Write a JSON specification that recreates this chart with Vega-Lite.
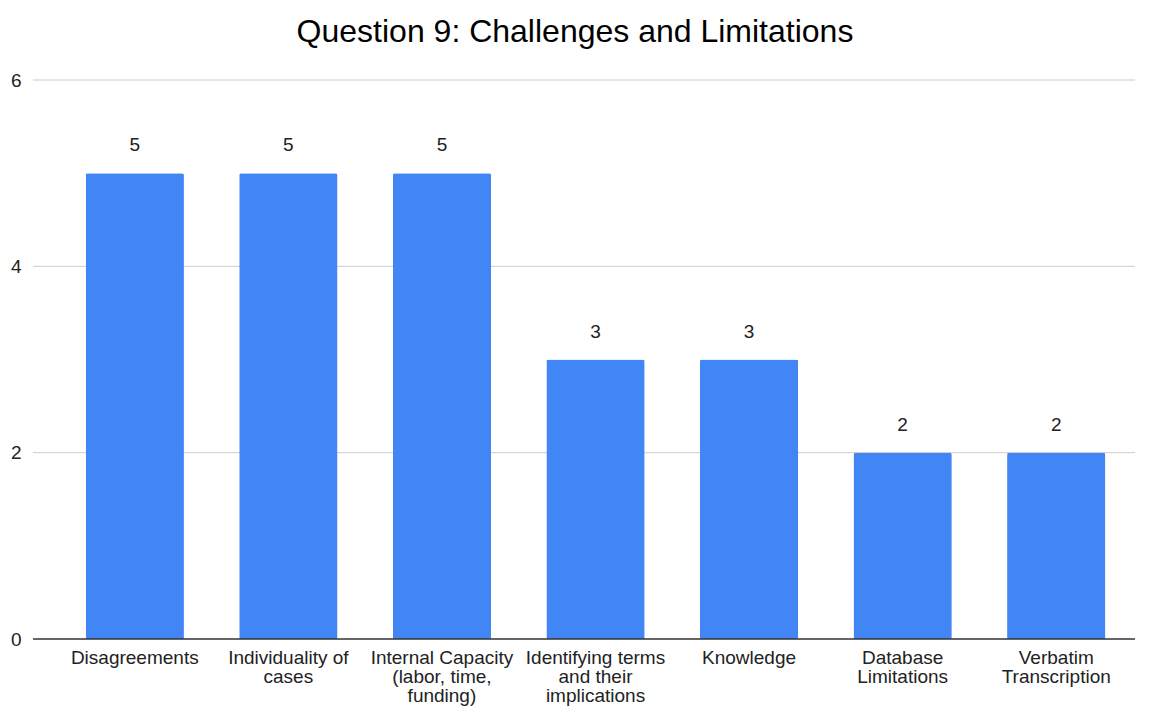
{
  "$schema": "https://vega.github.io/schema/vega-lite/v6.json",
  "width": 1102,
  "height": 559,
  "autosize": "none",
  "padding": {"left": 33, "top": 80, "right": 16, "bottom": 69},
  "background": "white",
  "config": {
    "font": "Liberation Sans",
    "view": {"stroke": null},
    "axisY": {
      "title": null,
      "domain": false,
      "ticks": false,
      "grid": false,
      "labelFontSize": 19,
      "labelColor": "#222222",
      "labelPadding": 12
    }
  },
  "title": {
    "text": "Question 9: Challenges and Limitations",
    "fontSize": 32,
    "fontWeight": "normal",
    "color": "#000000",
    "anchor": "middle",
    "dx": -9,
    "offset": 22
  },
  "layer": [
    {
      "data": {"values": [{"tick": 2}, {"tick": 4}, {"tick": 6}]},
      "mark": {"type": "rule", "color": "#cccccc", "strokeWidth": 1},
      "encoding": {
        "y": {"field": "tick", "type": "quantitative", "title": null, "scale": {"domain": [0, 6], "nice": false}, "axis": {"values": [0, 2, 4, 6], "format": "d"}}
      }
    },
    {
      "data": {
        "values": [
          {"challenge": "Disagreements", "count": 5},
          {"challenge": "Individuality of cases", "count": 5},
          {"challenge": "Internal Capacity (labor, time, funding)", "count": 5},
          {"challenge": "Identifying terms and their implications", "count": 3},
          {"challenge": "Knowledge", "count": 3},
          {"challenge": "Database Limitations", "count": 2},
          {"challenge": "Verbatim Transcription", "count": 2}
        ]
      },
      "encoding": {
        "x": {
          "field": "challenge",
          "type": "nominal",
          "sort": null,
          "scale": {"range": [25, 1100], "paddingInner": 0.36, "paddingOuter": 0.18},
          "axis": {
            "title": null,
            "domain": false,
            "ticks": false,
            "labelAngle": 0,
            "labelFontSize": 19,
            "labelColor": "#222222",
            "labelPadding": 9,
            "labelLineHeight": 19,
            "labelLimit": 220,
            "labelExpr": "datum.value == 'Individuality of cases' ? ['Individuality of', 'cases'] : datum.value == 'Internal Capacity (labor, time, funding)' ? ['Internal Capacity', '(labor, time,', 'funding)'] : datum.value == 'Identifying terms and their implications' ? ['Identifying terms', 'and their', 'implications'] : datum.value == 'Database Limitations' ? ['Database', 'Limitations'] : datum.value == 'Verbatim Transcription' ? ['Verbatim', 'Transcription'] : datum.value"
          }
        },
        "y": {
          "field": "count",
          "type": "quantitative",
          "title": null,
          "scale": {"domain": [0, 6], "nice": false},
          "axis": {"values": [0, 2, 4, 6], "format": "d"}
        }
      },
      "layer": [
        {
          "mark": {"type": "bar", "color": "#4285F4", "cornerRadiusTopLeft": 2, "cornerRadiusTopRight": 2}
        },
        {
          "mark": {"type": "text", "fontSize": 19, "color": "#222222", "baseline": "alphabetic", "dy": -22},
          "encoding": {"text": {"field": "count", "type": "quantitative"}}
        }
      ]
    },
    {
      "data": {"values": [{"tick": 0}]},
      "mark": {"type": "rule", "color": "#333333", "strokeWidth": 1.5},
      "encoding": {
        "y": {"field": "tick", "type": "quantitative", "title": null, "scale": {"domain": [0, 6], "nice": false}, "axis": {"values": [0, 2, 4, 6], "format": "d"}}
      }
    }
  ]
}
